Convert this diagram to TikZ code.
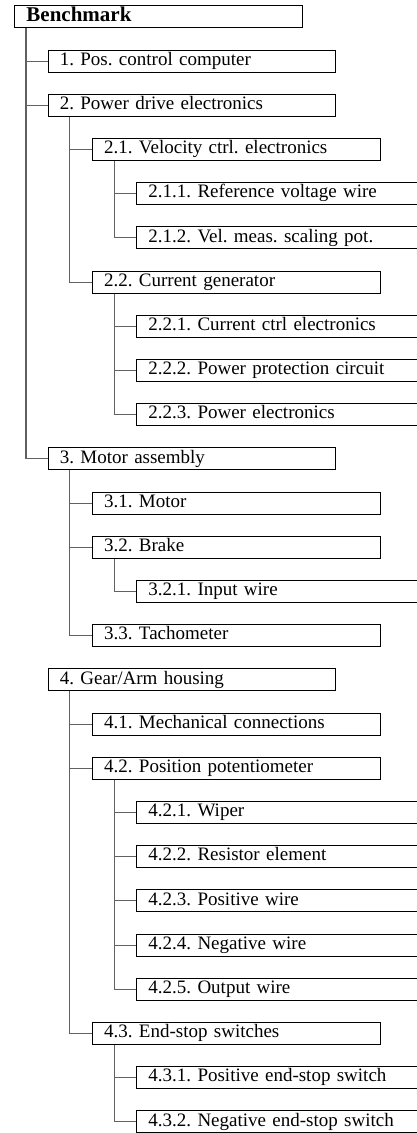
\documentclass[tikz,border=0pt]{standalone}
\usepackage{fontspec}
\setmainfont{Liberation Serif}
\frenchspacing
\begin{document}
\begin{tikzpicture}[x=1pt,y=1pt,
  box/.style={draw=black, line width=1.1pt, rectangle, anchor=north west,
    inner xsep=11.6pt, inner ysep=1pt, text width=264.3pt, align=left,
    text height=14.3pt, text depth=5.7pt,
    font=\fontsize{19}{22}\selectfont\frenchspacing},
  titlebox/.style={box, font=\fontsize{21}{22}\selectfont\bfseries},
  conn/.style={draw=black!62, line width=1.1pt}]
\useasboundingbox (0,0) rectangle (416,-1133);
% nodes
\node[titlebox] (n0) at (14.3,-5.3) {Benchmark};
\node[box] (n1) at (47.7,-49.5) {1. Pos. control computer};
\node[box] (n2) at (47.7,-93.7) {2. Power drive electronics};
\node[box] (n3) at (92,-137.9) {2.1. Velocity ctrl. electronics};
\node[box] (n4) at (136.3,-182.1) {2.1.1. Reference voltage wire};
\node[box] (n5) at (136.3,-226.3) {2.1.2. Vel. meas. scaling pot.};
\node[box] (n6) at (92,-270.5) {2.2. Current generator};
\node[box] (n7) at (136.3,-314.7) {2.2.1. Current ctrl electronics};
\node[box] (n8) at (136.3,-358.9) {2.2.2. Power protection circuit};
\node[box] (n9) at (136.3,-403.1) {2.2.3. Power electronics};
\node[box] (n10) at (47.7,-447.3) {3. Motor assembly};
\node[box] (n11) at (92,-491.5) {3.1. Motor};
\node[box] (n12) at (92,-535.7) {3.2. Brake};
\node[box] (n13) at (136.3,-579.9) {3.2.1. Input wire};
\node[box] (n14) at (92,-624.1) {3.3. Tachometer};
\node[box] (n15) at (47.7,-668.3) {4. Gear/Arm housing};
\node[box] (n16) at (92,-712.5) {4.1. Mechanical connections};
\node[box] (n17) at (92,-756.7) {4.2. Position potentiometer};
\node[box] (n18) at (136.3,-800.9) {4.2.1. Wiper};
\node[box] (n19) at (136.3,-845.1) {4.2.2. Resistor element};
\node[box] (n20) at (136.3,-889.3) {4.2.3. Positive wire};
\node[box] (n21) at (136.3,-933.5) {4.2.4. Negative wire};
\node[box] (n22) at (136.3,-977.7) {4.2.5. Output wire};
\node[box] (n23) at (92,-1021.9) {4.3. End-stop switches};
\node[box] (n24) at (136.3,-1066.1) {4.3.1. Positive end-stop switch};
\node[box] (n25) at (136.3,-1110.3) {4.3.2. Negative end-stop switch};
% connectors
\foreach \c in {1,2,10} \draw[conn] ([xshift=11.7pt]n0.south west) |- (n\c.west);
\foreach \c in {3,6} \draw[conn] ([xshift=22pt]n2.south west) |- (n\c.west);
\foreach \c in {4,5} \draw[conn] ([xshift=22.3pt]n3.south west) |- (n\c.west);
\foreach \c in {7,8,9} \draw[conn] ([xshift=22.3pt]n6.south west) |- (n\c.west);
\foreach \c in {11,12,14} \draw[conn] ([xshift=22pt]n10.south west) |- (n\c.west);
\foreach \c in {13} \draw[conn] ([xshift=22.3pt]n12.south west) |- (n\c.west);
\foreach \c in {16,17,23} \draw[conn] ([xshift=22pt]n15.south west) |- (n\c.west);
\foreach \c in {18,19,20,21,22} \draw[conn] ([xshift=22.3pt]n17.south west) |- (n\c.west);
\foreach \c in {24,25} \draw[conn] ([xshift=22.3pt]n23.south west) |- (n\c.west);
\end{tikzpicture}
\end{document}
